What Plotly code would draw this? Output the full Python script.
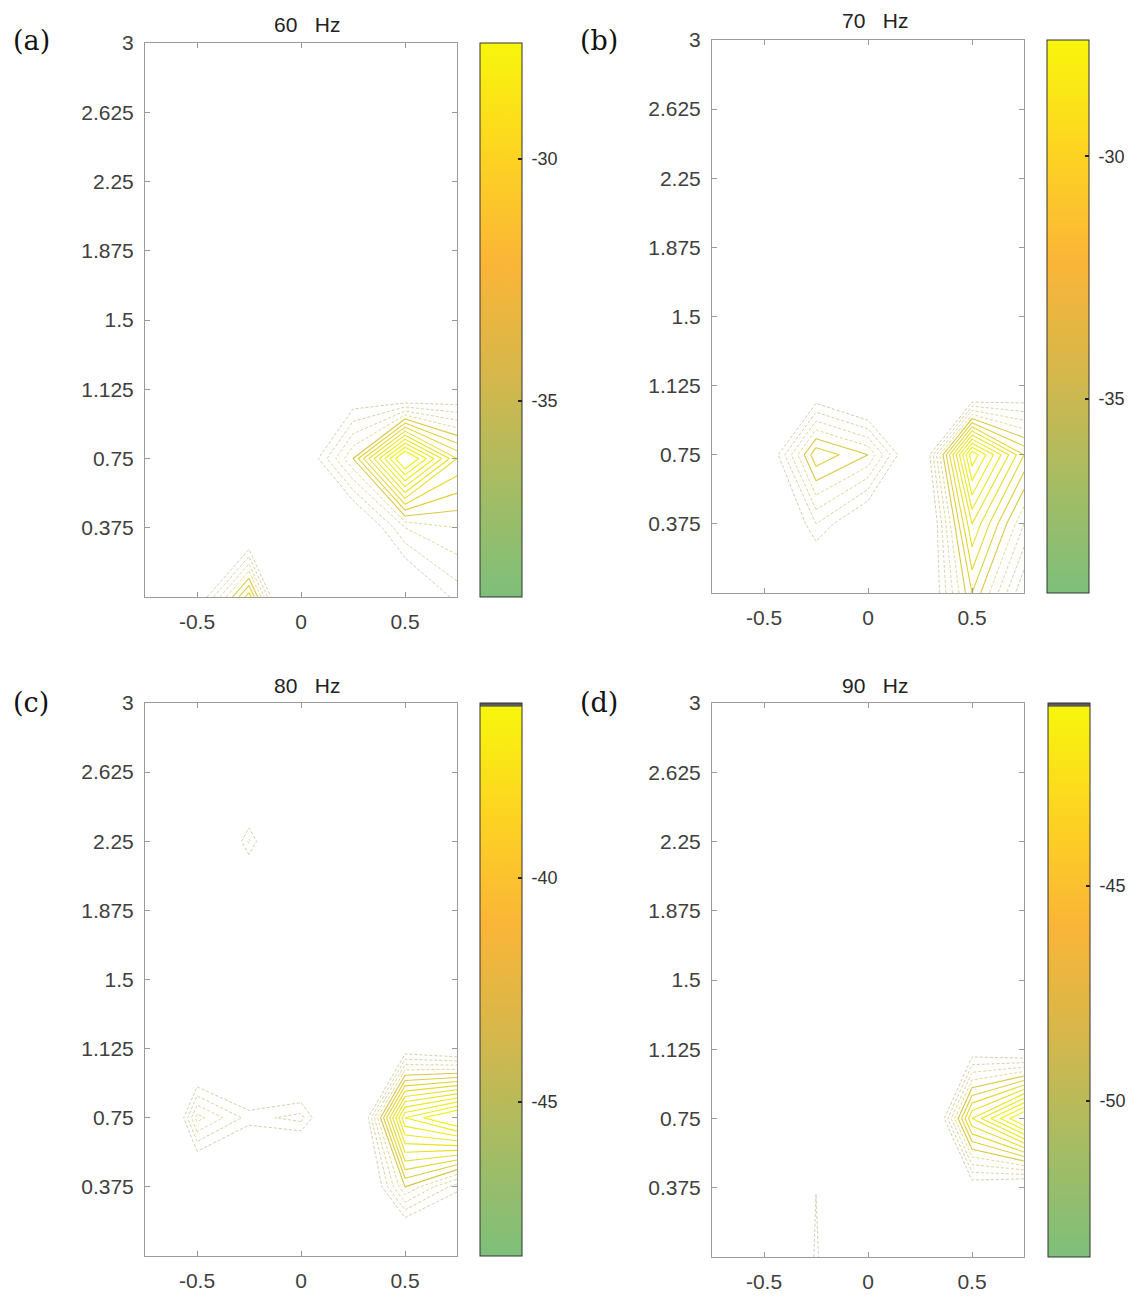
import plotly.graph_objects as go

# ---------------- data ----------------
X = [-0.75, -0.5, -0.25, 0.0, 0.25, 0.5, 0.75]
Y = [0.0, 0.375, 0.75, 1.125, 1.5, 1.875, 2.25, 2.625, 3.0]

Z60 = [
    [-37.5, -35.3, -31.2, -39.0, -37.0, -35.8, -34.3],
    [-38.0, -36.8, -36.0, -37.0, -35.8, -33.5, -33.0],
    [-38.0, -37.5, -37.0, -35.5, -32.5, -27.6, -31.0],
    [-38.5, -38.0, -37.5, -37.0, -35.3, -36.2, -35.5],
    [-38.5, -38.5, -38.0, -37.5, -37.0, -37.0, -36.5],
    [-38.5, -38.5, -38.5, -38.0, -37.5, -37.5, -37.0],
    [-39.0, -38.5, -38.5, -38.5, -38.0, -38.0, -37.5],
    [-39.0, -39.0, -38.5, -38.5, -38.5, -38.0, -38.0],
    [-39.05, -39.0, -39.0, -38.5, -38.5, -38.5, -38.0],
]
Z70 = [
    [-38.5, -37.5, -35.5, -36.0, -35.5, -31.5, -34.5],
    [-38.0, -36.0, -33.5, -35.0, -36.0, -30.0, -33.0],
    [-38.0, -35.1, -31.1, -32.0, -35.5, -27.6, -31.0],
    [-38.5, -37.0, -35.0, -36.0, -38.0, -36.0, -35.0],
    [-39.0, -38.5, -38.0, -38.0, -38.5, -38.0, -37.5],
    [-39.0, -38.5, -38.5, -38.5, -38.5, -38.5, -38.0],
    [-39.0, -39.0, -38.5, -38.5, -38.5, -38.5, -38.5],
    [-39.0, -39.0, -39.0, -38.5, -38.5, -38.5, -38.5],
    [-39.0, -39.0, -39.0, -39.0, -38.5, -38.5, -38.5],
]
Z80 = [
    [-48.0, -47.5, -47.0, -47.5, -47.0, -46.0, -46.0],
    [-47.5, -45.3, -46.0, -46.5, -46.0, -41.5, -43.3],
    [-48.45, -41.8, -43.2, -42.8, -46.0, -37.5, -36.1],
    [-48.0, -45.6, -46.0, -46.0, -46.5, -44.0, -44.5],
    [-48.0, -47.5, -47.0, -47.0, -47.0, -46.5, -46.5],
    [-48.0, -47.5, -46.0, -47.5, -47.5, -47.0, -47.0],
    [-48.0, -47.0, -42.9, -47.0, -47.5, -47.5, -47.5],
    [-48.45, -47.5, -46.0, -47.5, -48.0, -48.0, -47.5],
    [-48.45, -48.0, -48.0, -48.0, -48.0, -48.0, -48.0],
]
Z90 = [
    [-53.0, -52.0, -47.3, -51.5, -52.0, -51.0, -50.5],
    [-52.5, -51.5, -47.52, -51.0, -51.5, -48.0, -48.5],
    [-53.0, -52.0, -51.0, -51.5, -51.0, -43.5, -40.74],
    [-53.0, -52.5, -52.0, -52.0, -51.5, -48.0, -48.5],
    [-53.5, -53.0, -52.5, -52.5, -52.0, -51.5, -51.0],
    [-53.5, -53.0, -53.0, -52.5, -52.5, -52.0, -52.0],
    [-53.5, -53.5, -53.0, -53.0, -52.5, -52.5, -52.5],
    [-53.63, -53.5, -53.5, -53.0, -53.0, -53.0, -52.5],
    [-53.63, -53.63, -53.5, -53.5, -53.0, -53.0, -53.0],
]
ZS = [Z60, Z70, Z80, Z90]

titles = ["60\u00a0\u00a0\u00a0Hz", "70\u00a0\u00a0\u00a0Hz",
          "80\u00a0\u00a0\u00a0Hz", "90\u00a0\u00a0\u00a0Hz"]
panel_labels = ["(a)", "(b)", "(c)", "(d)"]
x_ticks = [-0.5, 0, 0.5]
x_ticktext = ["-0.5", "0", "0.5"]
y_ticks = [0.375, 0.75, 1.125, 1.5, 1.875, 2.25, 2.625, 3]
y_ticktext = ["0.375", "0.75", "1.125", "1.5", "1.875", "2.25", "2.625", "3"]
c_ranges = [(-39.05, -27.6), (-39.0, -27.6), (-48.45, -36.1), (-53.63, -40.74)]
c_ticks = [[-35, -30], [-35, -30], [-45, -40], [-50, -45]]
level_lo = [-34.5, -34.0, -43.5, -47.5]
level_hi = [-28.5, -28.0, -37.0, -41.5]
level_step = [0.5, 0.5, 0.5, 0.5]
n_faint = [4, 4, 4, 4]

# ---------------- layout geometry (pixels in the reference page) ----------------
OFF = 8  # page body margin
W, H = 1137 - OFF, 1298 - OFF
plot_px = [  # left, right, top, bottom
    (145, 457, 43, 597),
    (712, 1024, 40, 593),
    (145, 457, 703, 1256),
    (712, 1024, 703, 1257),
]
cbar_left = [480, 1047, 480, 1048]
title_pos = [(307, 24), (875, 21), (307, 685), (875, 685)]
label_pos = [(31, 41), (599, 41), (31, 702), (599, 702)]


def fx(p):
    return (p - OFF) / W


def fy(p):
    return 1 - (p - OFF) / H


bar_stops = [
    (0.0, "#7dbf7a"), (0.2, "#a6bc63"), (0.4, "#d6b74b"),
    (0.6, "#fab537"), (0.8, "#fdd421"), (1.0, "#f8f60c"),
]
line_stops = [
    (0.0, "#b9b37e"), (0.3, "#d9c447"), (0.55, "#e9dc2a"), (1.0, "#f2f20a"),
]


def hex2rgb(h):
    return tuple(int(h[k:k + 2], 16) for k in (1, 3, 5))


def sample(stops, f):
    f = min(max(f, 0.0), 1.0)
    for (f0, c0), (f1, c1) in zip(stops[:-1], stops[1:]):
        if f0 <= f <= f1:
            t = 0 if f1 == f0 else (f - f0) / (f1 - f0)
            a, b = hex2rgb(c0), hex2rgb(c1)
            return "rgb(%d,%d,%d)" % tuple(round(a[k] + (b[k] - a[k]) * t) for k in range(3))
    return stops[-1][1]


def sub_scale(levels, lo, hi):
    n = len(levels) - 1
    out = []
    for k, lev in enumerate(levels):
        out.append([k / n if n else 0.0, sample(line_stops, (lev - lo) / (hi - lo))])
    if n == 0:
        out.append([1.0, out[0][1]])
    return out


full_scale = [[f, c] for f, c in bar_stops]
gray_top = [[0.0, "#7dbf7a"], [0.2, "#a6bc63"], [0.4, "#d6b74b"],
            [0.6, "#fab537"], [0.8, "#fdd421"], [0.993, "#f8f60c"],
            [0.994, "#5a5a5a"], [1.0, "#5a5a5a"]]
bar_scales = [full_scale, full_scale, gray_top, gray_top]

fig = go.Figure()
layout = dict(
    width=W, height=H,
    margin=dict(l=0, r=0, t=0, b=0, autoexpand=False),
    paper_bgcolor="white", plot_bgcolor="white",
    showlegend=False,
    font=dict(family="Liberation Sans, Arial", color="#333333"),
    annotations=[],
)

for i in range(4):
    sfx = "" if i == 0 else str(i + 1)
    xa, ya = "x" + sfx, "y" + sfx
    l, r, t, b = plot_px[i]
    cmin, cmax = c_ranges[i]
    lo, hi, st = level_lo[i], level_hi[i], level_step[i]
    nlev = int(round((hi - lo) / st)) + 1
    levels = [lo + k * st for k in range(nlev)]
    groups = [
        (levels[:n_faint[i]], dict(width=0.8, dash="3px,2px"), 0.8),
        (levels[n_faint[i]:], dict(width=1.1), 1.0),
    ]
    for levs, ln, op in groups:
        fig.add_trace(go.Contour(
            x=X, y=Y, z=ZS[i],
            colorscale=sub_scale(levs, lo, hi), showscale=False,
            autocontour=False,
            contours=dict(coloring="lines", start=levs[0], end=levs[-1] + st * 0.01,
                          size=st, showlabels=False),
            line=dict(smoothing=0, **ln),
            opacity=op,
            xaxis=xa, yaxis=ya, hoverinfo="skip",
        ))
    # colorbar carrier
    fig.add_trace(go.Scatter(
        x=[None], y=[None], mode="markers", xaxis=xa, yaxis=ya, hoverinfo="skip",
        marker=dict(
            color=[cmin, cmax], cmin=cmin, cmax=cmax, colorscale=bar_scales[i], showscale=True,
            colorbar=dict(
                x=fx(cbar_left[i]), xanchor="left", y=fy((t + b) / 2), yanchor="middle",
                len=b - t, lenmode="pixels", thickness=42, thicknessmode="pixels",
                xpad=0, ypad=0, outlinewidth=1, outlinecolor="#333333",
                tickvals=c_ticks[i], ticktext=["\u00a0" + str(v) for v in c_ticks[i]],
                ticks="inside", ticklen=4, tickwidth=2, tickcolor="#222222",
                tickfont=dict(size=18, color="#333333", family="Liberation Sans, Arial"),
            ),
        ),
    ))
    axis_common = dict(
        showgrid=False, zeroline=False, showline=True, mirror="ticks",
        linecolor="#9a9a9a", linewidth=1, ticks="inside", ticklen=5,
        tickcolor="#9a9a9a", tickfont=dict(size=21, color="#404040"),
    )
    layout["xaxis" + sfx] = dict(
        **axis_common, domain=[fx(l), fx(r)], range=[-0.75, 0.75], anchor=ya,
        tickvals=x_ticks, ticktext=x_ticktext, ticklabelstandoff=6,
    )
    layout["yaxis" + sfx] = dict(
        **axis_common, domain=[fy(b), fy(t)], range=[0, 3], anchor=xa,
        tickvals=y_ticks, ticktext=y_ticktext, ticklabelstandoff=6,
    )
    tx, ty = title_pos[i]
    layout["annotations"].append(dict(
        text=titles[i], x=fx(tx), y=fy(ty), xref="paper", yref="paper",
        xanchor="center", yanchor="middle", showarrow=False,
        font=dict(size=21, color="#222222", family="Liberation Sans, Arial"),
    ))
    lx, ly = label_pos[i]
    layout["annotations"].append(dict(
        text=panel_labels[i], x=fx(lx), y=fy(ly), xref="paper", yref="paper",
        xanchor="center", yanchor="middle", showarrow=False,
        font=dict(size=27, color="#111111", family="DejaVu Serif, serif"),
    ))

fig.update_layout(**layout)
fig.write_html("out.html")
